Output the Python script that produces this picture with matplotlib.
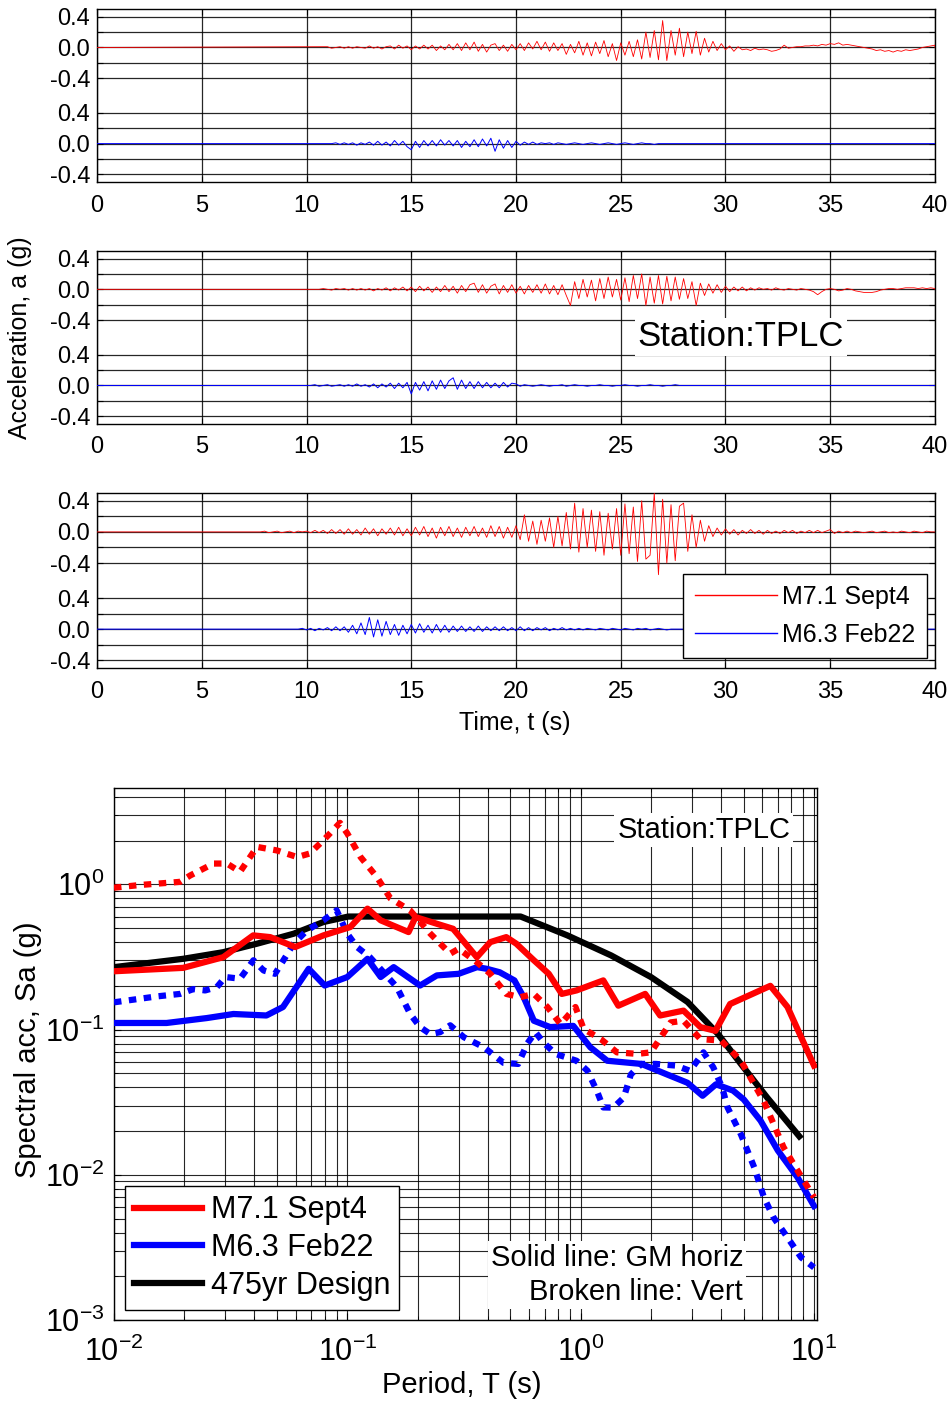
import numpy as np
import matplotlib
matplotlib.use("Agg")
import matplotlib.pyplot as plt
from matplotlib.lines import Line2D
from matplotlib.ticker import FixedLocator, FixedFormatter, LogLocator, NullFormatter

plt.rcParams["font.family"] = ["Liberation Sans", "DejaVu Sans"]
plt.rcParams["mathtext.fontset"] = "custom"
plt.rcParams["mathtext.rm"] = "Liberation Sans"
plt.rcParams["mathtext.it"] = "Liberation Sans:italic"
plt.rcParams["mathtext.bf"] = "Liberation Sans:bold"

# ── acceleration histories (g), sampled every DT seconds from t0 ──
DT = 0.2

P1_RED_T0 = 11.0
P1_RED = [
    0.01, -0.01, 0.0, 0.01, -0.01, 0.01, -0.01, 0.01, 0.0, -0.01,
    0.02, -0.01, 0.01, -0.02, 0.01, 0.02, -0.02, 0.03, -0.01, 0.02,
    -0.03, 0.02, -0.02, 0.03, -0.02, 0.03, -0.04, 0.02, -0.03, 0.04,
    -0.03, 0.05, -0.04, 0.06, -0.03, 0.07, -0.05, 0.04, -0.06, 0.03,
    0.05, -0.04, 0.03, -0.05, 0.04, -0.03, 0.05, -0.04, 0.06, -0.02,
    0.08, -0.03, 0.07, -0.05, 0.06, -0.04, 0.05, -0.09, 0.04, -0.07,
    0.08, -0.1, 0.06, -0.11, 0.07, -0.08, 0.09, -0.12, 0.05, -0.17,
    0.06, -0.1, 0.08, -0.12, 0.1, -0.15, 0.2, -0.13, 0.22, -0.16,
    0.35, -0.17, 0.22, -0.1, 0.25, -0.12, 0.2, -0.08, 0.21, -0.1,
    0.12, -0.06, 0.08, -0.04, 0.05, -0.03, 0.02, -0.05, 0.01, -0.03,
    -0.02, -0.04, -0.01, -0.03, -0.02, -0.03, -0.05, -0.04, -0.02, 0.03,
    -0.01, 0.0, 0.01, 0.01, 0.02, 0.02, 0.03, 0.02, 0.04, 0.03,
    0.05, 0.04, 0.06, 0.03, 0.04, 0.03, 0.02, 0.01, 0.0, -0.01,
    -0.02, -0.04, -0.03, -0.05, -0.04, -0.06, -0.04, -0.05, -0.03, -0.04,
    -0.03, -0.02, 0.0, 0.01, 0.02, 0.03,
]
P1_BLUE_T0 = 11.2
P1_BLUE = [
    0.0, 0.01, -0.01, 0.01,
    -0.01, 0.01, -0.02, 0.01, -0.01, 0.02, -0.02, 0.03, -0.02, 0.02,
    -0.03, 0.04, -0.02, 0.03, -0.04, -0.08, 0.03, -0.05, 0.04, -0.03,
    0.04, -0.03, 0.05, -0.02, 0.04, -0.03, 0.04, -0.05, 0.03, -0.04,
    0.05, -0.04, 0.06, -0.03, 0.07, -0.1, 0.05, -0.06, 0.04, -0.05,
    0.03, -0.02, 0.02, -0.01, 0.02, -0.01, 0.01, 0.0, 0.01, -0.01,
    0.01, 0.0, -0.01, 0.0, 0.01, 0.0, -0.01, 0.0, 0.01, 0.0,
    -0.01, 0.0, 0.01, 0.0, -0.01, 0.0, 0.01, 0.0, -0.01, 0.0,
    0.01, 0.0, 0.0, -0.01, 0.0, 0.0,
]

P2_RED_T0 = 10.6
P2_RED = [
    0.0, 0.01,
    0.0, -0.01, 0.01, 0.0, 0.01, -0.01, 0.01, -0.01, 0.01, -0.01,
    0.01, -0.02, 0.01, -0.01, 0.02, -0.02, 0.02, -0.01, 0.03, -0.02,
    0.03, -0.03, 0.04, -0.02, 0.03, -0.04, 0.03, -0.03, 0.05, -0.03,
    0.04, -0.05, 0.05, -0.03, 0.06, 0.08, -0.04, 0.06, -0.05, 0.04,
    0.07, -0.06, 0.05, -0.04, 0.06, -0.05, 0.04, -0.06, 0.05, -0.04,
    0.06, -0.05, 0.07, -0.06, 0.05, -0.07, 0.06, -0.08, -0.21, 0.1,
    -0.12, 0.13, -0.1, 0.12, -0.15, 0.14, -0.12, 0.16, -0.1, 0.13,
    -0.14, 0.15, -0.16, 0.18, -0.12, 0.2, -0.21, 0.16, -0.18, 0.18,
    -0.19, 0.17, -0.15, 0.16, -0.13, 0.14, -0.12, 0.1, -0.21, 0.08,
    -0.08, 0.07, -0.05, 0.06, -0.04, 0.04, -0.03, 0.03, -0.02, 0.03,
    -0.02, 0.02, -0.01, 0.02, 0.0, 0.01, -0.01, 0.02, 0.0, -0.01,
    0.01, 0.0, -0.01, 0.01, 0.0, -0.01, -0.03, -0.07, -0.03, 0.0,
    0.01, 0.0, -0.02, -0.01, 0.01, 0.0, -0.02, -0.03, -0.04, -0.04,
    -0.04, -0.03, -0.01, 0.0, 0.01, 0.01, 0.0, 0.01, 0.02, 0.02,
    0.02, 0.01, 0.02, 0.01, 0.02, 0.01,
]
P2_BLUE_T0 = 10.2
P2_BLUE = [
    0.0, 0.01, -0.01, 0.0,
    0.01, -0.01, 0.0, 0.01, -0.01, 0.01, -0.01, 0.02, -0.01, 0.01,
    -0.02, 0.02, -0.03, 0.02, -0.02, 0.03, -0.04, 0.03, -0.03, 0.04,
    -0.11, 0.04, -0.06, 0.05, -0.07, 0.06, -0.05, 0.07, -0.04, 0.06,
    0.1, -0.05, 0.07, -0.04, 0.05, -0.04, 0.05, -0.03, 0.04, -0.03,
    0.03, -0.03, 0.04, -0.02, 0.03, 0.02, -0.01, 0.01, 0.0, -0.01,
    0.0, 0.01, 0.0, -0.01, 0.0, 0.0, 0.01, -0.01, 0.0, 0.01,
    0.0, 0.0, -0.01, 0.0, 0.0, 0.01, 0.0, 0.0, -0.01, 0.0,
    0.0, 0.01, 0.0, 0.0, -0.01, 0.0, 0.0, 0.01, 0.0, 0.0,
    -0.01, 0.0, 0.0, 0.01, 0.0, 0.0,
]

P3_RED_T0 = 7.8
P3_RED = [
    0.0,
    0.01, -0.01, 0.0, 0.01, -0.01, 0.0, 0.01, -0.01, 0.01, 0.0,
    0.01, -0.01, 0.02, -0.01, 0.02, -0.02, 0.03, -0.02, 0.03, -0.03,
    0.04, -0.03, 0.03, -0.04, 0.05, -0.03, 0.04, -0.05, 0.04, -0.03,
    0.05, -0.04, 0.06, -0.05, 0.04, -0.05, 0.06, -0.04, 0.07, -0.06,
    0.05, -0.08, 0.06, -0.05, 0.07, -0.06, 0.05, -0.07, 0.06, -0.05,
    0.07, -0.06, 0.05, -0.07, 0.08, -0.06, 0.07, -0.08, 0.06, -0.07,
    0.08, -0.1, 0.22, -0.12, 0.14, -0.16, 0.15, -0.12, 0.18, -0.2,
    0.2, -0.18, 0.25, -0.22, 0.37, -0.26, 0.3, -0.2, 0.28, -0.25,
    0.26, -0.3, 0.24, -0.22, 0.3, -0.3, 0.36, -0.28, 0.32, -0.38,
    0.4, -0.35, -0.3, 0.5, -0.55, 0.42, -0.4, 0.35, -0.37, 0.33,
    0.37, -0.25, 0.22, -0.2, 0.15, -0.12, 0.08, -0.06, 0.05, -0.04,
    0.04, -0.03, 0.03, -0.04, 0.02, -0.02, 0.03, -0.02, 0.02, -0.03,
    0.02, -0.02, 0.01, -0.02, 0.02, -0.01, 0.02, -0.02, 0.01, -0.01,
    0.02, -0.01, 0.02, -0.01, 0.01, 0.03, -0.02, 0.01, -0.01, 0.01,
    -0.01, 0.01, 0.0, -0.01, 0.0, 0.01, -0.01, 0.0, 0.01, -0.01,
    0.0, -0.01, 0.01, 0.0, -0.01, 0.01, 0.0, -0.01, 0.01, 0.0,
    0.0,
]
P3_BLUE_T0 = 9.6
P3_BLUE = [
    0.0, 0.01,
    -0.01, 0.01, -0.02, 0.01, -0.01, 0.02, -0.02, 0.03, -0.02, 0.03,
    -0.04, 0.05, -0.06, 0.08, -0.07, 0.15, -0.1, 0.12, -0.09, 0.1,
    -0.07, 0.06, -0.08, 0.05, -0.06, 0.06, -0.05, 0.07, -0.04, 0.05,
    -0.05, 0.06, -0.04, 0.05, -0.04, 0.04, -0.03, 0.04, -0.03, 0.03,
    -0.03, 0.04, -0.03, 0.03, -0.02, 0.03, -0.02, 0.03, -0.02, 0.02,
    -0.02, 0.03, -0.02, 0.02, -0.02, 0.02, -0.01, 0.02, -0.02, 0.01,
    -0.01, 0.02, -0.01, 0.01, -0.01, 0.01, -0.01, 0.01, 0.0, -0.01,
    0.01, 0.0, -0.01, 0.01, 0.0, -0.01, 0.01, 0.0, -0.01, 0.01,
    0.0, 0.01, -0.01, 0.0, 0.01, 0.0, -0.01, 0.0,
]

PANELS = [
    (P1_RED_T0, P1_RED, P1_BLUE_T0, P1_BLUE),
    (P2_RED_T0, P2_RED, P2_BLUE_T0, P2_BLUE),
    (P3_RED_T0, P3_RED, P3_BLUE_T0, P3_BLUE),
]
T_END = 40.0
UPPER_OFFSET = 1.25   # red record drawn above the blue one in each panel

# ── response spectra, Sa (g) vs period T (s) ──
T_DESIGN = [0.01, 0.0198, 0.0294, 0.041, 0.0589, 0.079, 0.101, 0.553, 0.877,
            1.35, 2.0, 2.87, 3.86, 4.86, 6.3, 8.65]
SA_DESIGN = [0.269, 0.307, 0.341, 0.39, 0.457, 0.55, 0.60, 0.60, 0.445,
             0.324, 0.23, 0.155, 0.094, 0.058, 0.034, 0.0184]

T_SEPT_H = [0.01, 0.0198, 0.0294, 0.0395, 0.0467, 0.0598, 0.079, 0.103, 0.122, 0.139,
            0.183, 0.196, 0.242, 0.284, 0.359, 0.41, 0.48, 0.53, 0.63, 0.73,
            0.83, 0.96, 1.25, 1.45, 1.89, 2.19, 2.76, 3.26, 3.78, 4.37,
            6.5, 7.7, 10.0]
SA_SEPT_H = [0.252, 0.266, 0.315, 0.445, 0.433, 0.37, 0.445, 0.508, 0.68, 0.565,
             0.469, 0.595, 0.535, 0.494, 0.315, 0.40, 0.433, 0.39, 0.30, 0.242,
             0.176, 0.186, 0.218, 0.146, 0.176, 0.125, 0.135, 0.104, 0.098, 0.150,
             0.20, 0.143, 0.0565]

T_SEPT_V = [0.01, 0.013, 0.0192, 0.0212, 0.0267, 0.0305, 0.0347, 0.041, 0.050, 0.061,
            0.069, 0.079, 0.093, 0.10, 0.114, 0.134, 0.153, 0.186, 0.227, 0.276,
            0.30, 0.359, 0.41, 0.48, 0.55, 0.63, 0.72, 0.82, 0.95, 1.03,
            1.22, 1.43, 1.75, 2.0, 2.43, 2.76, 3.26, 4.0, 4.86, 6.1,
            7.4, 8.5, 10.0]
SA_SEPT_V = [0.948, 0.99, 1.04, 1.15, 1.39, 1.39, 1.22, 1.81, 1.71, 1.54,
             1.63, 2.01, 2.65, 2.24, 1.54, 1.12, 0.80, 0.66, 0.457, 0.333,
             0.36, 0.291, 0.242, 0.176, 0.167, 0.176, 0.143, 0.109, 0.143, 0.101,
             0.086, 0.0697, 0.068, 0.0697, 0.112, 0.115, 0.086, 0.084, 0.061, 0.032,
             0.0155, 0.0107, 0.0070]

T_FEB_H = [0.01, 0.0168, 0.025, 0.0325, 0.045, 0.053, 0.0683, 0.080, 0.10, 0.122,
           0.139, 0.158, 0.205, 0.242, 0.30, 0.36, 0.396, 0.45, 0.52, 0.57,
           0.63, 0.74, 0.93, 1.10, 1.30, 1.82, 2.35, 2.87, 3.33, 3.8,
           4.5, 5.0, 5.9, 7.0, 8.5, 10.0]
SA_FEB_H = [0.111, 0.111, 0.12, 0.128, 0.125, 0.143, 0.262, 0.201, 0.23, 0.307,
            0.23, 0.269, 0.201, 0.236, 0.242, 0.269, 0.262, 0.248, 0.218, 0.167,
            0.115, 0.104, 0.106, 0.0755, 0.061, 0.058, 0.049, 0.043, 0.035, 0.042,
            0.038, 0.033, 0.0236, 0.0147, 0.0096, 0.0061]

T_FEB_V = [0.01, 0.0152, 0.0192, 0.0219, 0.0246, 0.0276, 0.030, 0.0347, 0.0396, 0.0438,
           0.049, 0.0589, 0.067, 0.079, 0.090, 0.10, 0.11, 0.125, 0.143, 0.163,
           0.186, 0.205, 0.227, 0.25, 0.276, 0.316, 0.385, 0.467, 0.54, 0.59,
           0.64, 0.69, 0.78, 0.96, 1.07, 1.18, 1.25, 1.38, 1.53, 1.64,
           1.82, 2.1, 2.56, 2.94, 3.36, 3.7, 4.04, 4.26, 4.86, 5.55,
           6.1, 6.7, 7.7, 8.8, 10.0]
SA_FEB_V = [0.154, 0.169, 0.176, 0.19, 0.186, 0.196, 0.23, 0.224, 0.30, 0.255,
            0.242, 0.39, 0.48, 0.565, 0.662, 0.457, 0.37, 0.315, 0.248, 0.196,
            0.128, 0.104, 0.093, 0.096, 0.107, 0.0885, 0.0755, 0.059, 0.058, 0.080,
            0.096, 0.082, 0.068, 0.061, 0.052, 0.037, 0.0291, 0.029, 0.034, 0.049,
            0.058, 0.058, 0.0565, 0.052, 0.0697, 0.055, 0.040, 0.0291, 0.019, 0.0112,
            0.0070, 0.0051, 0.0037, 0.0027, 0.0023]

LABEL_SEPT = "M7.1 Sept4"
LABEL_FEB = "M6.3 Feb22"
LABEL_DESIGN = "475yr Design"
STATION = "Station:TPLC"


def trace(t0, vals):
    t = t0 + DT * np.arange(len(vals))
    return np.r_[0.0, t, T_END], np.r_[0.0, vals, 0.0]


fig = plt.figure(figsize=(9.53, 14.07), dpi=100)

panel_rects = [
    [0.1018, 0.8706, 0.8793, 0.1230],
    [0.1018, 0.6987, 0.8793, 0.1230],
    [0.1018, 0.5252, 0.8793, 0.1244],
]
yt = [-0.4, -0.2, 0.0, 0.2, 0.4]
ytick_pos = yt + [v + UPPER_OFFSET for v in yt]
ytick_lab = ["-0.4", "", "0.0", "", "0.4"] * 2

time_axes = []
for rect, (rt0, rv, bt0, bv) in zip(panel_rects, PANELS):
    ax = fig.add_axes(rect)
    t, v = trace(rt0, rv)
    ax.plot(t, v + UPPER_OFFSET, color="red", lw=0.6, zorder=3)
    t, v = trace(bt0, bv)
    ax.plot(t, v, color="blue", lw=0.7, zorder=3)
    ax.set_xlim(0, 40)
    ax.set_ylim(-0.5, UPPER_OFFSET + 0.5)
    ax.set_xticks(np.arange(0, 41, 5))
    ax.yaxis.set_major_locator(FixedLocator(ytick_pos))
    ax.yaxis.set_major_formatter(FixedFormatter(ytick_lab))
    ax.grid(True, color="black", lw=0.9, alpha=0.85)
    ax.tick_params(direction="in", top=True, right=True, length=4,
                   labelsize=17, color="black")
    ax.tick_params(axis="x", pad=9)
    ax.tick_params(axis="y", pad=5)
    for s in ax.spines.values():
        s.set_linewidth(1.0)
    time_axes.append(ax)

time_axes[1].text(0.768, 0.503, STATION, transform=time_axes[1].transAxes,
                  ha="center", va="center", fontsize=25, zorder=5,
                  bbox=dict(facecolor="white", edgecolor="none", pad=2))
leg_handles = [Line2D([], [], color="red", lw=1.0),
               Line2D([], [], color="blue", lw=1.0)]
leg = time_axes[2].legend(leg_handles, [LABEL_SEPT, LABEL_FEB],
                          loc="lower right", bbox_to_anchor=(0.99, 0.057),
                          borderaxespad=0, fontsize=18, handlelength=3.3,
                          fancybox=False, framealpha=1, edgecolor="black",
                          borderpad=0.45, labelspacing=0.55, handletextpad=0.2)
leg.get_frame().set_linewidth(1.0)
leg.set_zorder(6)

fig.text(0.021, 0.76, "Acceleration, a (g)", rotation=90, ha="center",
         va="center", fontsize=18)
fig.text(0.54, 0.4861, "Time, t (s)", ha="center", va="center", fontsize=18)

# ── spectra ──
ax = fig.add_axes([0.1196, 0.0618, 0.7377, 0.3781])
ax.set_xscale("log")
ax.set_yscale("log")
lw = 4.5
dots = (0, (1.2, 1.2))
ax.plot(T_DESIGN, SA_DESIGN, color="black", lw=lw, label=LABEL_DESIGN, zorder=3)
ax.plot(T_FEB_H, SA_FEB_H, color="blue", lw=lw, label=LABEL_FEB, zorder=3)
ax.plot(T_FEB_V, SA_FEB_V, color="blue", lw=lw, ls=dots, zorder=3)
ax.plot(T_SEPT_H, SA_SEPT_H, color="red", lw=lw, label=LABEL_SEPT, zorder=4)
ax.plot(T_SEPT_V, SA_SEPT_V, color="red", lw=lw, ls=dots, zorder=4)
ax.set_xlim(0.01, 10.3)
ax.set_ylim(1e-3, 4.6)
ax.xaxis.set_major_locator(LogLocator(base=10, numticks=10))
ax.yaxis.set_major_locator(LogLocator(base=10, numticks=10))
ax.xaxis.set_minor_locator(LogLocator(base=10, subs=np.arange(2, 10), numticks=20))
ax.yaxis.set_minor_locator(LogLocator(base=10, subs=np.arange(2, 10), numticks=20))
ax.xaxis.set_minor_formatter(NullFormatter())
ax.yaxis.set_minor_formatter(NullFormatter())
ax.grid(True, which="both", color="black", lw=0.8, alpha=0.85)
ax.tick_params(which="both", direction="in", top=True, right=True, color="black")
ax.tick_params(which="major", length=5, labelsize=22)
ax.tick_params(which="minor", length=3)
ax.tick_params(axis="x", pad=12)
ax.tick_params(axis="y", pad=7)
for s in ax.spines.values():
    s.set_linewidth(1.0)

handles, labels = ax.get_legend_handles_labels()
order = [labels.index(LABEL_SEPT), labels.index(LABEL_FEB), labels.index(LABEL_DESIGN)]
leg2 = ax.legend([handles[i] for i in order], [labels[i] for i in order],
                 loc="lower left", bbox_to_anchor=(0.016, 0.019), borderaxespad=0,
                 fontsize=22, handlelength=2.2, fancybox=False, framealpha=1,
                 edgecolor="black", borderpad=0.3, labelspacing=0.25,
                 handletextpad=0.3)
leg2.get_frame().set_linewidth(1.0)
leg2.set_zorder(6)

ax.text(0.839, 0.921, STATION, transform=ax.transAxes, ha="center", va="center",
        fontsize=21, zorder=5, bbox=dict(facecolor="white", edgecolor="none", pad=2))
ax.text(0.895, 0.085, "Solid line: GM horiz\nBroken line: Vert", transform=ax.transAxes,
        ha="right", va="center", fontsize=21, linespacing=1.3, zorder=5,
        bbox=dict(facecolor="white", edgecolor="none", pad=2))

fig.text(0.029, 0.2537, "Spectral acc, Sa (g)", rotation=90, ha="center",
         va="center", fontsize=21)
fig.text(0.485, 0.0156, "Period, T (s)", ha="center", va="center", fontsize=21)

fig.savefig("out.png", dpi=100, facecolor="white")
